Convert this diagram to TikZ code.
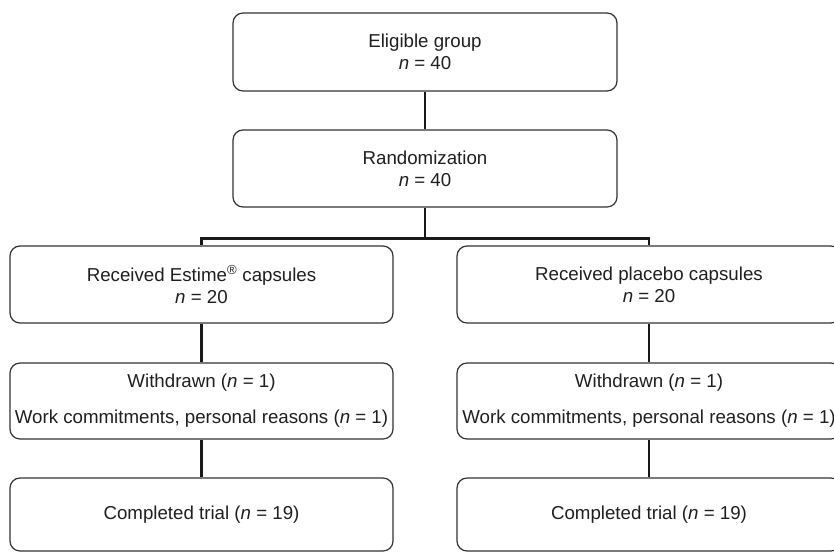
\documentclass[tikz,border=0pt]{standalone}
\usepackage{fontspec}
\setmainfont{Liberation Sans}
\begin{document}
\begin{tikzpicture}[x=1pt,y=1pt,
  box/.style={draw=black!80, line width=1.2pt, rounded corners=10pt, align=center,
    inner sep=0pt, text=black!88, font=\fontsize{18.7}{22}\selectfont},
  conn/.style={draw=black!90, line width=2.4pt}]
\useasboundingbox (0,0) rectangle (834,-552);
\node[box, minimum width=384, minimum height=78] (elig) at (425,-52) {Eligible group\\\textit{n} = 40};
\node[box, minimum width=384, minimum height=77] (rand) at (425,-168.5) {Randomization\\\textit{n} = 40};
\node[box, minimum width=383, minimum height=77] (recL) at (201.5,-284.5) {Received Estime\textsuperscript{®} capsules\\\textit{n} = 20};
\node[box, minimum width=384, minimum height=77] (recR) at (649,-284.5) {Received placebo capsules\\\textit{n} = 20};
\node[box, minimum width=383, minimum height=76] (wdL) at (201.5,-401) {Withdrawn (\textit{n} = 1)\\[14pt]Work commitments, personal reasons (\textit{n} = 1)};
\node[box, minimum width=384, minimum height=76] (wdR) at (649,-401) {Withdrawn (\textit{n} = 1)\\[14pt]Work commitments, personal reasons (\textit{n} = 1)};
\node[box, minimum width=383, minimum height=73] (compL) at (201.5,-514.5) {Completed trial (\textit{n} = 19)};
\node[box, minimum width=384, minimum height=73] (compR) at (649,-514.5) {Completed trial (\textit{n} = 19)};
\draw[conn] (elig.south) -- (rand.north);
\draw[conn] (rand.south) -- ++(0,-31) coordinate (split);
\draw[conn] (recL.north) |- (split) -| (recR.north);
\draw[conn] (recL.south) -- (wdL.north);
\draw[conn] (wdL.south) -- (compL.north);
\draw[conn] (recR.south) -- (wdR.north);
\draw[conn] (wdR.south) -- (compR.north);
\end{tikzpicture}
\end{document}
